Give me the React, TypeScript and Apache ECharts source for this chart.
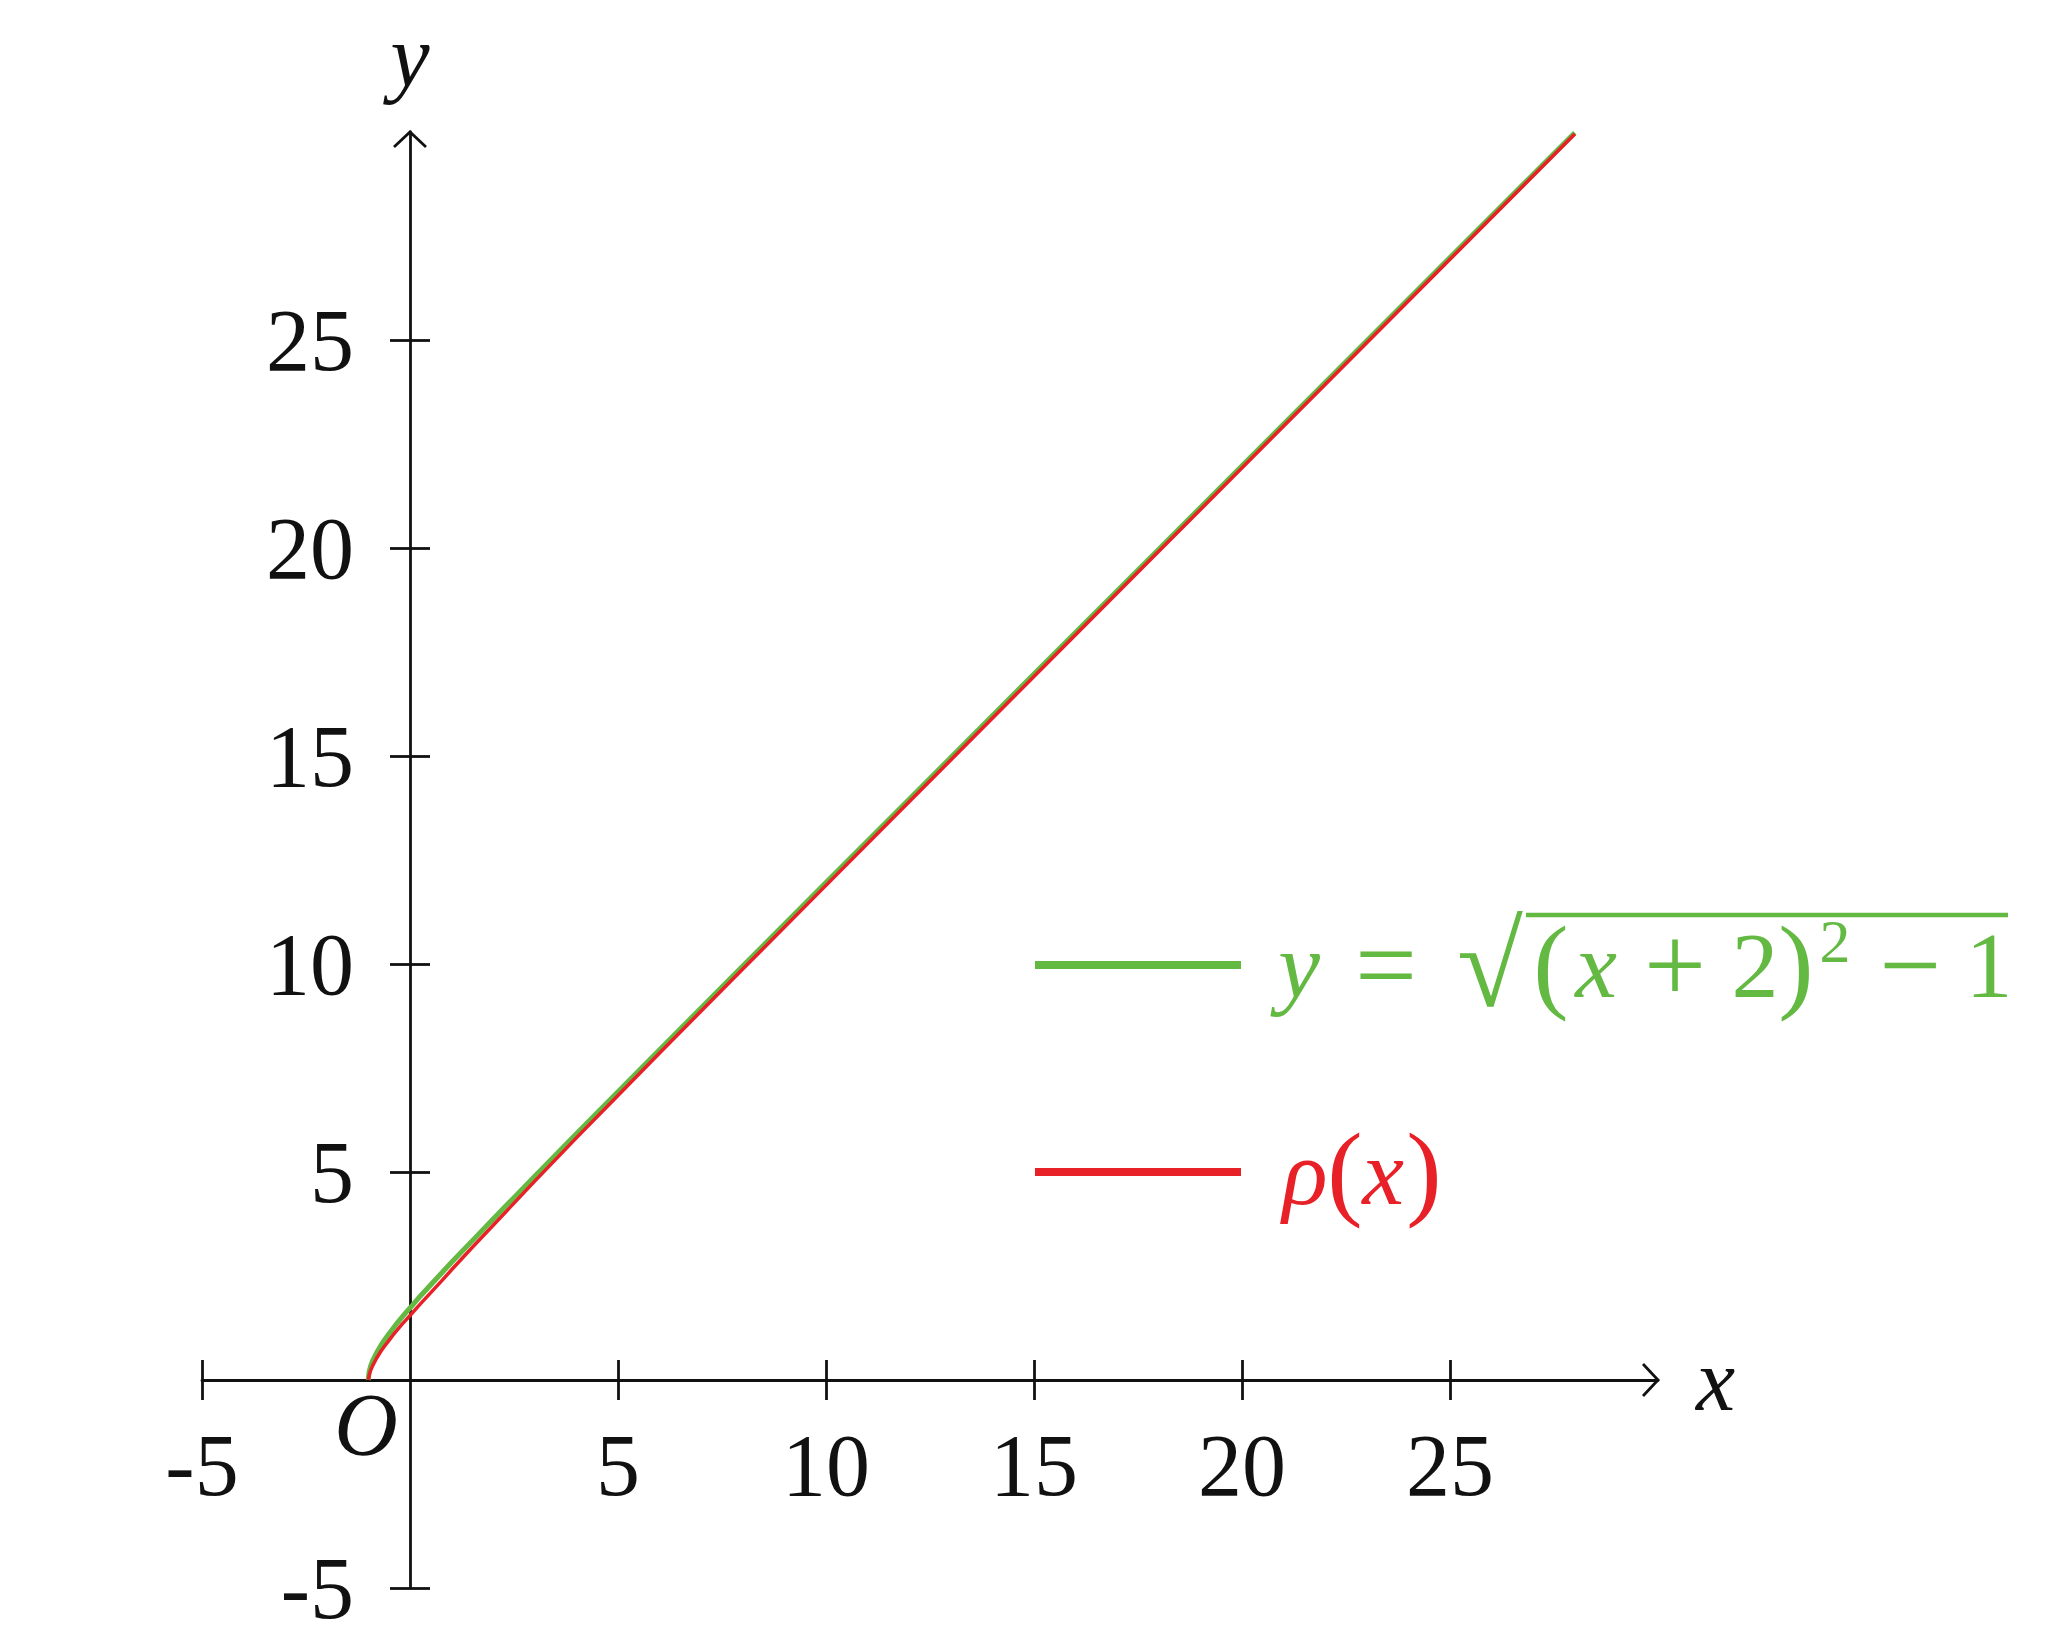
import React, { useEffect, useRef } from "react";
import * as echarts from "echarts";

// ---- data ----
const xValues = [-1, -0.99, -0.98, -0.95, -0.9, -0.8, -0.7, -0.6, -0.5, -0.4, -0.3, -0.2, -0.1, 0, 0.25, 0.5, 0.75, 1, 1.5, 2, 3, 4, 5, 6, 8, 10, 12, 15, 18, 22, 25, 28];
const sqrtCurve = [0, 0.14, 0.2, 0.32, 0.46, 0.66, 0.83, 0.98, 1.12, 1.25, 1.38, 1.5, 1.62, 1.73, 2.02, 2.29, 2.56, 2.83, 3.35, 3.87, 4.9, 5.92, 6.93, 7.94, 9.95, 11.96, 13.96, 16.97, 19.97, 23.98, 26.98, 29.98];
const rhoCurve = [0, 0.07, 0.12, 0.22, 0.34, 0.53, 0.69, 0.83, 0.96, 1.09, 1.21, 1.33, 1.44, 1.55, 1.83, 2.1, 2.37, 2.65, 3.19, 3.72, 4.78, 5.82, 6.84, 7.86, 9.88, 11.89, 13.9, 16.91, 19.92, 23.93, 26.94, 29.95];
const tickValues = [-5, 5, 10, 15, 20, 25];
const axisMin = -5;
const axisMax = 30;
const seriesNames = ["y = √(x + 2)² − 1", "ρ(x)"];
const seriesColors = ["#63b942", "#e82027"];

const FONT = "'Liberation Serif', 'DejaVu Serif', serif";

export default function App() {
  const ref = useRef<HTMLDivElement>(null);
  useEffect(() => {
    if (!ref.current) return;
    const chart = echarts.init(ref.current, undefined, { renderer: "svg" });
    const axisColor = "#111";
    const lineW = 2.8;
    const labelStyle = { fontFamily: FONT, fontSize: 88, color: "#111" };

    const paren = { align: "center", fontSize: 106, verticalAlign: "top", lineHeight: 86 };
    const legendRich: any = {
      sp: { width: 31 },
      vy: { width: 44, align: "center", fontStyle: "italic" },
      eq: { width: 130, align: "center", fontSize: 110 },
      sq: { width: 78, align: "center", fontSize: 120 },
      lp: { width: 44, ...paren },
      vx: { width: 46, align: "center", fontStyle: "italic" },
      pl: { width: 112, align: "center", fontSize: 110 },
      two: { width: 48, align: "center" },
      rp: { width: 34, ...paren },
      sup: { width: 44, align: "center", fontSize: 62, verticalAlign: "top", lineHeight: 60 },
      mi: { width: 106, align: "center", fontSize: 110 },
      one: { width: 52, align: "center" },
      rho: { width: 56, align: "center", fontStyle: "italic" },
      lp2: { width: 24, ...paren },
      rx: { width: 52, align: "center", fontStyle: "italic" },
      rp2: { width: 30, ...paren },
    };
    Object.keys(legendRich).forEach((k) => {
      if (!legendRich[k].lineHeight) legendRich[k].lineHeight = 110;
      legendRich[k].fontFamily = FONT;
      if (!legendRich[k].fontSize) legendRich[k].fontSize = 94;
    });

    const option: any = {
      animation: false,
      backgroundColor: "#fff",
      grid: { left: 202, right: 406, top: 132, bottom: 53, outerBoundsMode: "none" },
      legend: {
        orient: "vertical",
        left: 1035,
        top: 905,
        padding: 0,
        itemGap: 92,
        icon: "rect",
        itemWidth: 206,
        itemHeight: 8,
        itemStyle: { borderWidth: 0 },
        data: [
          { name: seriesNames[0], textStyle: { color: seriesColors[0] } },
          { name: seriesNames[1], textStyle: { color: seriesColors[1] } },
        ],
        textStyle: { fontFamily: FONT, fontSize: 94, lineHeight: 110, rich: legendRich },
        formatter: (name: string) =>
          name === seriesNames[0]
            ? "{sp| }{vy|y}{eq|=}{sq|√}{lp|(}{vx|x}{pl|+}{two|2}{rp|)}{sup|2}{mi|−}{one|1}"
            : "{sp| }{rho|ρ}{lp2|(}{rx|x}{rp2|)}",
      },
      xAxis: [
        {
          type: "value",
          min: axisMin,
          max: axisMax,
          position: "bottom",
          name: "x",
          nameLocation: "end",
          nameGap: 38,
          nameTextStyle: { ...labelStyle, fontStyle: "italic", verticalAlign: "middle" },
          axisLine: { onZero: true, onZeroAxisIndex: 0, lineStyle: { color: axisColor, width: lineW } },
          axisTick: { show: true, length: 20, customValues: tickValues, lineStyle: { color: axisColor, width: lineW } },
          axisLabel: { ...labelStyle, margin: -167, customValues: tickValues, formatter: (v: number) => String(v) },
          splitLine: { show: false },
        },
        {
          type: "value",
          min: axisMin,
          max: axisMax,
          position: "top",
          axisLine: { show: false, onZero: true, onZeroAxisIndex: 0 },
          axisTick: { show: true, length: 20, customValues: tickValues, lineStyle: { color: axisColor, width: lineW } },
          axisLabel: { show: false },
          splitLine: { show: false },
        },
      ],
      yAxis: [
        {
          type: "value",
          min: axisMin,
          max: axisMax,
          position: "left",
          name: "y",
          nameLocation: "end",
          nameGap: 32,
          nameTextStyle: { ...labelStyle, fontStyle: "italic" },
          axisLine: { onZero: true, onZeroAxisIndex: 0, lineStyle: { color: axisColor, width: lineW } },
          axisTick: { show: true, length: 20, customValues: tickValues, lineStyle: { color: axisColor, width: lineW } },
          axisLabel: { ...labelStyle, margin: -152, customValues: tickValues, formatter: (v: number) => String(v) },
          splitLine: { show: false },
        },
        {
          type: "value",
          min: axisMin,
          max: axisMax,
          position: "right",
          axisLine: { show: false, onZero: true, onZeroAxisIndex: 0 },
          axisTick: { show: true, length: 20, customValues: tickValues, lineStyle: { color: axisColor, width: lineW } },
          axisLabel: { show: false },
          splitLine: { show: false },
        },
      ],
      series: [
        {
          name: seriesNames[0],
          type: "line",
          xAxisIndex: 0,
          yAxisIndex: 0,
          showSymbol: false,
          smooth: false,
          color: seriesColors[0],
          lineStyle: { color: seriesColors[0], width: 5 },
          data: xValues.map((x, i) => [x, sqrtCurve[i]]),
        },
        {
          name: seriesNames[1],
          type: "line",
          xAxisIndex: 0,
          yAxisIndex: 0,
          showSymbol: false,
          smooth: false,
          color: seriesColors[1],
          lineStyle: { color: seriesColors[1], width: 3.5 },
          data: xValues.map((x, i) => [x, rhoCurve[i]]),
        },
      ],
    };
    chart.setOption(option);

    const toPx = (p: number[]) => chart.convertToPixel({ xAxisIndex: 0, yAxisIndex: 0 }, p) as number[];
    const origin = toPx([0, 0]);
    const xEnd = toPx([axisMax, 0]);
    const yEnd = toPx([0, axisMax]);
    const arrowStyle = { stroke: axisColor, lineWidth: lineW, fill: "none" };
    chart.setOption({
      graphic: [
        {
          type: "polyline",
          shape: { points: [[xEnd[0] - 15, xEnd[1] - 16], [xEnd[0], xEnd[1]], [xEnd[0] - 15, xEnd[1] + 16]] },
          style: arrowStyle,
        },
        {
          type: "polyline",
          shape: { points: [[yEnd[0] - 16, yEnd[1] + 15], [yEnd[0], yEnd[1]], [yEnd[0] + 16, yEnd[1] + 15]] },
          style: arrowStyle,
        },
        {
          type: "text",
          x: origin[0] - 44,
          y: origin[1] + 44,
          style: {
            text: "O",
            fontFamily: FONT,
            fontStyle: "italic",
            fontSize: 88,
            fill: "#111",
            align: "center",
            verticalAlign: "middle",
          },
        },
        {
          type: "line",
          shape: { x1: 1526, y1: 915, x2: 2008, y2: 915 },
          style: { stroke: seriesColors[0], lineWidth: 4.5 },
        },
      ],
    });

    return () => chart.dispose();
  }, []);
  return <div ref={ref} style={{ position: "absolute", left: 0, top: 0, width: 2064, height: 1641 }} />;
}
